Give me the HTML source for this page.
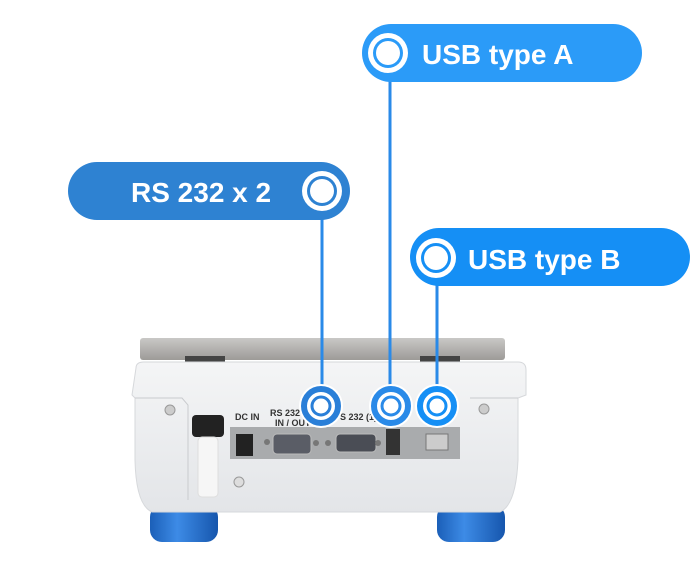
<!DOCTYPE html>
<html><head><style>
html,body{margin:0;padding:0;background:#fff;width:700px;height:573px;overflow:hidden}
svg{display:block}
text{font-family:"Liberation Sans",sans-serif;font-weight:bold}
</style></head><body>
<svg width="700" height="573" viewBox="0 0 700 573">
<defs>
<linearGradient id="plate" x1="0" y1="0" x2="0" y2="1"><stop offset="0" stop-color="#c9c8c6"/><stop offset="1" stop-color="#9d9b98"/></linearGradient>
<linearGradient id="body" x1="0" y1="0" x2="0" y2="1"><stop offset="0" stop-color="#f4f5f6"/><stop offset="1" stop-color="#e3e5e8"/></linearGradient>
<linearGradient id="foot" x1="0" y1="0" x2="1" y2="0"><stop offset="0" stop-color="#1b5fb8"/><stop offset="0.4" stop-color="#3d8be6"/><stop offset="1" stop-color="#1656ad"/></linearGradient>
</defs>
<rect x="140" y="338" width="365" height="22" rx="3" fill="url(#plate)"/>
<rect x="185" y="356" width="40" height="8" fill="#444"/>
<rect x="420" y="356" width="40" height="8" fill="#444"/>
<rect x="150" y="505" width="68" height="37" rx="12" fill="url(#foot)"/>
<rect x="437" y="505" width="68" height="37" rx="12" fill="url(#foot)"/>
<path d="M136 368 Q136 362 144 362 L518 362 Q526 362 526 370 L526 395 L518 398 L518 460 Q516 505 500 512 L152 512 Q136 505 135 460 L135 398 L132 395 Z" fill="url(#body)" stroke="#d6d8db"/>
<path d="M135 398 L182 398 L188 405 L188 500 M470 398 L518 398" fill="none" stroke="#c9cbce"/>
<rect x="230" y="427" width="230" height="32" fill="#a9abad"/>
<rect x="236" y="434" width="17" height="22" fill="#222"/>
<rect x="273" y="434" width="38" height="20" rx="4" fill="#5a5d66" stroke="#bbb"/>
<rect x="336" y="434" width="40" height="18" rx="4" fill="#4a4d55" stroke="#bbb"/>
<rect x="386" y="429" width="14" height="26" fill="#333"/>
<rect x="426" y="434" width="22" height="16" fill="#ccc" stroke="#777"/>
<circle cx="267" cy="442" r="3" fill="#777"/><circle cx="316" cy="443" r="3" fill="#777"/>
<circle cx="328" cy="443" r="3" fill="#777"/><circle cx="378" cy="443" r="3" fill="#777"/>
<circle cx="170" cy="410" r="5" fill="#ccc" stroke="#999"/>
<circle cx="484" cy="409" r="5" fill="#ccc" stroke="#999"/>
<circle cx="239" cy="482" r="5" fill="#ddd" stroke="#999"/>
<rect x="192" y="415" width="32" height="22" rx="4" fill="#222"/>
<rect x="198" y="437" width="20" height="60" rx="4" fill="#f6f6f6" stroke="#ddd"/>
<text x="235" y="420" font-size="9" fill="#333">DC IN</text>
<text x="270" y="416" font-size="9" fill="#333">RS 232</text>
<text x="275" y="426" font-size="9" fill="#333">IN / OUT</text>
<text x="340" y="420" font-size="9" fill="#333">S 232 (1)</text>
<g stroke="#2a8ae8" stroke-width="3">
<line x1="322" y1="215" x2="322" y2="390"/>
<line x1="390" y1="80" x2="390" y2="390"/>
<line x1="437" y1="284" x2="437" y2="390"/>
</g>
<rect x="362" y="24" width="280" height="58" rx="29" fill="#2b9bf8"/>
<rect x="68" y="162" width="282" height="58" rx="29" fill="#2e82d2"/>
<rect x="410" y="228" width="280" height="58" rx="29" fill="#158ff5"/>
<g fill="#fff">
<circle cx="388" cy="53" r="20"/><circle cx="322" cy="191" r="20"/><circle cx="436" cy="258" r="20"/>
</g>
<circle cx="388" cy="53" r="15" fill="#2b9bf8"/>
<circle cx="322" cy="191" r="15" fill="#2e82d2"/>
<circle cx="436" cy="258" r="15" fill="#158ff5"/>
<g fill="#fff">
<circle cx="388" cy="53" r="12"/><circle cx="322" cy="191" r="12"/><circle cx="436" cy="258" r="12"/>
</g>
<text x="422" y="64" font-size="28" fill="#fff">USB type A</text>
<text x="131" y="202" font-size="28" fill="#fff">RS 232 x 2</text>
<text x="468" y="269" font-size="28" fill="#fff">USB type B</text>
<g>
<circle cx="321" cy="406" r="22" fill="#fff"/><circle cx="321" cy="406" r="17" fill="none" stroke="#2a7fd8" stroke-width="6"/><circle cx="321" cy="406" r="9" fill="none" stroke="#2a7fd8" stroke-width="3"/>
<circle cx="391" cy="406" r="22" fill="#fff"/><circle cx="391" cy="406" r="17" fill="none" stroke="#2a8ae8" stroke-width="6"/><circle cx="391" cy="406" r="9" fill="none" stroke="#2a8ae8" stroke-width="3"/>
<circle cx="437" cy="406" r="22" fill="#fff"/><circle cx="437" cy="406" r="17" fill="none" stroke="#158ff5" stroke-width="6"/><circle cx="437" cy="406" r="9" fill="none" stroke="#158ff5" stroke-width="3"/>
</g>
</svg>
</body></html>
